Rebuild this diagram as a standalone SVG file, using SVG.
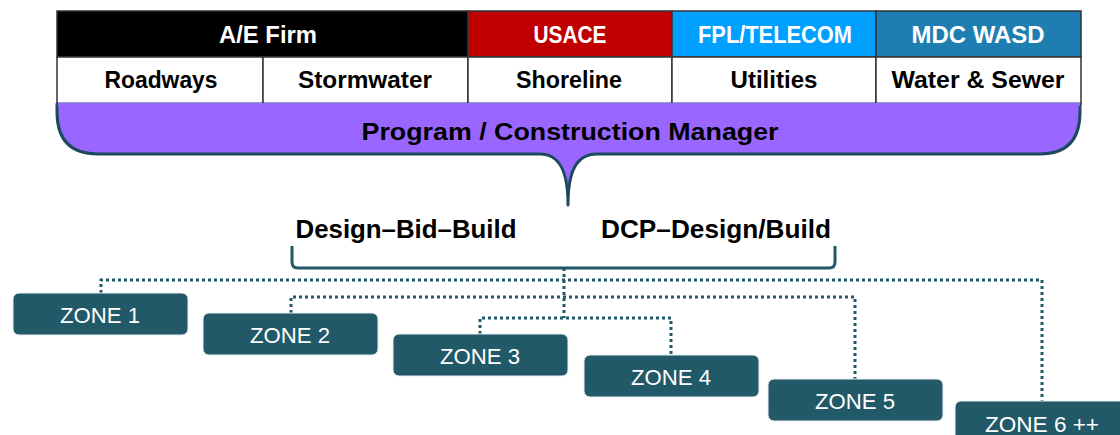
<svg xmlns="http://www.w3.org/2000/svg" width="1120" height="435" viewBox="0 0 1120 435">
<style>
.hdr{font-family:"Liberation Sans",Arial,sans-serif;font-weight:bold;font-size:23px;fill:#fff;text-anchor:middle}
.sub{font-family:"Liberation Sans",Arial,sans-serif;font-weight:bold;font-size:23px;fill:#000;text-anchor:middle}
.pm{font-family:"Liberation Sans",Arial,sans-serif;font-weight:bold;font-size:23.5px;fill:#000;text-anchor:middle}
.big{font-family:"Liberation Sans",Arial,sans-serif;font-weight:bold;font-size:26.5px;fill:#000;text-anchor:middle}
.zt{font-family:"Liberation Sans",Arial,sans-serif;font-size:22.5px;fill:#fff;text-anchor:middle}
.cell{stroke:#333;stroke-width:1.5}
.zone{fill:#215968;stroke:#e8eef0;stroke-width:1}
.dot{fill:none;stroke:#215968;stroke-width:3;stroke-dasharray:3 3}
</style>
<rect width="1120" height="435" fill="#fff"/>
<g id="table">
  <rect class="cell" x="57" y="11" width="411" height="46" fill="#000"/>
  <rect class="cell" x="468" y="11" width="204" height="46" fill="#C00000"/>
  <rect class="cell" x="672" y="11" width="204" height="46" fill="#00A0FF"/>
  <rect class="cell" x="876" y="11" width="205" height="46" fill="#1F7EB1"/>
  <rect class="cell" x="57" y="57" width="206" height="47" fill="#fff"/>
  <rect class="cell" x="263" y="57" width="205" height="47" fill="#fff"/>
  <rect class="cell" x="468" y="57" width="204" height="47" fill="#fff"/>
  <rect class="cell" x="672" y="57" width="204" height="47" fill="#fff"/>
  <rect class="cell" x="876" y="57" width="205" height="47" fill="#fff"/>
  <text class="hdr" x="268" y="43" textLength="98" lengthAdjust="spacingAndGlyphs">A/E Firm</text>
  <text class="hdr" x="570" y="43" textLength="73" lengthAdjust="spacingAndGlyphs">USACE</text>
  <text class="hdr" x="775" y="43" textLength="154" lengthAdjust="spacingAndGlyphs">FPL/TELECOM</text>
  <text class="hdr" x="978" y="43" textLength="133" lengthAdjust="spacingAndGlyphs">MDC WASD</text>
  <text class="sub" x="161" y="88" textLength="113" lengthAdjust="spacingAndGlyphs">Roadways</text>
  <text class="sub" x="365" y="88" textLength="134" lengthAdjust="spacingAndGlyphs">Stormwater</text>
  <text class="sub" x="569" y="88" textLength="106" lengthAdjust="spacingAndGlyphs">Shoreline</text>
  <text class="sub" x="774" y="88" textLength="87" lengthAdjust="spacingAndGlyphs">Utilities</text>
  <text class="sub" x="978" y="88" textLength="173" lengthAdjust="spacingAndGlyphs">Water &amp; Sewer</text>
</g>
<g id="pm">
  <path d="M57,104 L57,112 Q57,154 98,154 L540,154 C560,154 568,172 568,205 C568,172 576,154 597,154 L1040,154 Q1080,154 1080,112 L1080,104 Z" fill="#9966FF" stroke="#1B4A5E" stroke-width="3" stroke-linejoin="round"/>
  <rect x="58" y="103" width="1022" height="3" fill="#9966FF"/>
  <text class="pm" x="570" y="140" textLength="417" lengthAdjust="spacingAndGlyphs">Program / Construction Manager</text>
</g>
<g id="methods">
  <text class="big" x="406" y="238" textLength="221" lengthAdjust="spacingAndGlyphs">Design–Bid–Build</text>
  <text class="big" x="716" y="238" textLength="230" lengthAdjust="spacingAndGlyphs">DCP–Design/Build</text>
</g>
<g id="connectors">
  <path d="M292,246 L292,262 Q292,268 298,268 L829,268 Q835,268 835,262 L835,246" fill="none" stroke="#215968" stroke-width="3"/>
  <path class="dot" d="M564,268 L564,318"/>
  <path class="dot" d="M101,293 L101,280 L1042,280 L1042,401"/>
  <path class="dot" d="M291,313 L291,297 L855,297 L855,379"/>
  <path class="dot" d="M480,334 L480,318 L671,318 L671,355"/>
</g>
<g id="zone1"><rect class="zone" x="13" y="293" width="175" height="42" rx="6"/><text class="zt" x="100" y="323" textLength="80" lengthAdjust="spacingAndGlyphs">ZONE 1</text></g>
<g id="zone2"><rect class="zone" x="203" y="313" width="175" height="42" rx="6"/><text class="zt" x="290" y="343" textLength="80" lengthAdjust="spacingAndGlyphs">ZONE 2</text></g>
<g id="zone3"><rect class="zone" x="393" y="334" width="175" height="42" rx="6"/><text class="zt" x="480" y="364" textLength="80" lengthAdjust="spacingAndGlyphs">ZONE 3</text></g>
<g id="zone4"><rect class="zone" x="584" y="355" width="175" height="42" rx="6"/><text class="zt" x="671" y="385" textLength="80" lengthAdjust="spacingAndGlyphs">ZONE 4</text></g>
<g id="zone5"><rect class="zone" x="768" y="379" width="175" height="42" rx="6"/><text class="zt" x="855" y="409" textLength="80" lengthAdjust="spacingAndGlyphs">ZONE 5</text></g>
<g id="zone6"><rect class="zone" x="955" y="401" width="175" height="42" rx="6"/><text class="zt" x="1042" y="432" textLength="114" lengthAdjust="spacingAndGlyphs">ZONE 6 ++</text></g>
</svg>
